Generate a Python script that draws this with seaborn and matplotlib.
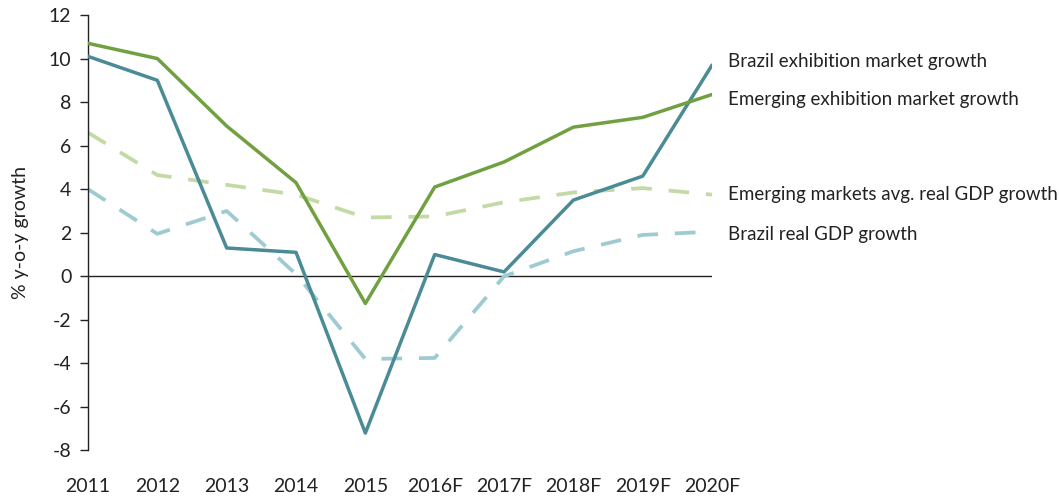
import matplotlib
matplotlib.use("Agg")
import matplotlib.pyplot as plt
import matplotlib.transforms as mtransforms
import seaborn as sns
import pandas as pd

years = ["2011", "2012", "2013", "2014", "2015", "2016F", "2017F", "2018F", "2019F", "2020F"]
brazil_exhibition = [10.1, 9.0, 1.3, 1.1, -7.2, 1.0, 0.2, 3.5, 4.6, 9.7]
emerging_exhibition = [10.7, 10.0, 6.9, 4.3, -1.25, 4.1, 5.25, 6.85, 7.3, 8.35]
emerging_gdp = [6.6, 4.65, 4.2, 3.75, 2.7, 2.75, 3.4, 3.85, 4.05, 3.75]
brazil_gdp = [4.0, 1.95, 3.0, 0.1, -3.8, -3.75, 0.0, 1.15, 1.9, 2.05]

series_names = [
    "Brazil exhibition market growth",
    "Emerging exhibition market growth",
    "Emerging markets avg. real GDP growth",
    "Brazil real GDP growth",
]
series_values = [brazil_exhibition, emerging_exhibition, emerging_gdp, brazil_gdp]
colors = ["#4a8b95", "#70a040", "#c3daa6", "#9dcbd1"]
dashed = [False, False, True, True]
label_y = [9.85, 8.1, 3.75, 1.9]

sns.set_style("white")
plt.rcParams["font.family"] = ["Lato", "DejaVu Sans"]
plt.rcParams["axes.unicode_minus"] = False

fig = plt.figure(figsize=(10.59, 4.97), dpi=100)
ax = fig.add_axes([0.0831, 0.0936, 0.5893, 0.8762])

ax.axhline(0, color="#222222", lw=1.0, zorder=1)

# draw dashed (GDP) lines first, then solid
order = [3, 2, 0, 1]
for i in order:
    df = pd.DataFrame({"x": range(len(years)), "y": series_values[i]})
    if dashed[i]:
        sns.lineplot(data=df, x="x", y="y", ax=ax, color=colors[i], lw=2.7,
                     dashes=False, linestyle=(0, (5.5, 4.5)), zorder=2)
    else:
        sns.lineplot(data=df, x="x", y="y", ax=ax, color=colors[i], lw=2.5, zorder=3)

ax.set_xlim(0, len(years) - 1)
ax.set_ylim(-8, 12)
ax.set_yticks(range(-8, 13, 2))
ax.set_xticks(range(len(years)))
ax.set_xticklabels(years)
ax.set_xlabel("")
ax.set_ylabel("% y-o-y growth", fontsize=14, color="#222222", labelpad=14)

for s in ["top", "right", "bottom"]:
    ax.spines[s].set_visible(False)
ax.spines["left"].set_color("#222222")
ax.spines["left"].set_linewidth(1.0)

ax.tick_params(axis="y", which="both", left=True, length=6, width=1.0, color="#222222",
               labelsize=14, labelcolor="#222222", pad=6)
ax.tick_params(axis="x", which="both", bottom=False, length=0, labelsize=14,
               labelcolor="#222222", pad=20)

trans = mtransforms.blended_transform_factory(ax.transAxes, ax.transData)
for name, yv in zip(series_names, label_y):
    ax.text(1.025, yv, name, transform=trans, fontsize=13.5, color="#222222",
            va="center", ha="left", clip_on=False)

fig.savefig("out.png", dpi=100)
